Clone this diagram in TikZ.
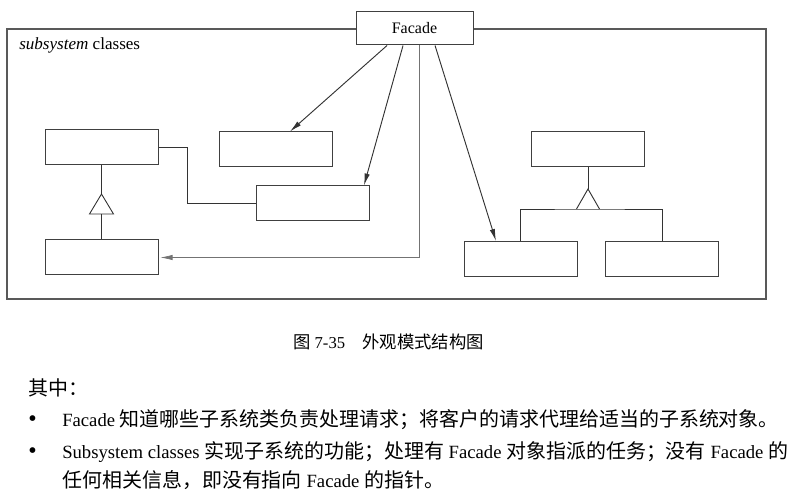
\documentclass[tikz,border=0pt]{standalone}
\usepackage{fontspec}
\setmainfont{Liberation Serif}
\newfontfamily\zhfont{Noto Sans CJK SC}[Scale = 1.04]
\newfontfamily\zhbody{Noto Sans CJK SC}[Scale = 1.07]
\usetikzlibrary{arrows.meta}

\begin{document}
\begin{tikzpicture}[x = 0.75pt, y = -0.75pt, > = {Latex[length = 9pt, width = 4pt]},
	every node/.style = {color = black, inner sep = 0pt},
	cls/.style = {draw = black!75, fill = white, line width = 0.75pt, minimum width = 84.75pt, minimum height = 26.25pt},
	link/.style = {draw = black!80, line width = 0.7pt}]

	% Definition

	\def\T{20}		% height of the generalization triangles (px)

	\useasboundingbox (0, 0) rectangle (801, 495);

	% Subsystem frame

	\draw [black!65, line width = 1pt] (7, 29) rectangle (766, 299);
	\node [anchor = base west, font = \fontsize{12.8}{14}\selectfont] (sublabel) at (19, 50) {\textit{subsystem} classes};

	% Facade and subsystem classes

	\node [cls, minimum width = 87.75pt, minimum height = 24.75pt, font = \fontsize{12}{14}\selectfont] (fac) at (414.5, 28.5) {Facade};

	\node [cls] (left1) at (101.5, 147.5) {};
	\node [cls] (left2) at (101.5, 257.5) {};
	\node [cls] (mid1) at (276, 149.5) {};
	\node [cls] (mid2) at (312.5, 203.5) {};
	\node [cls] (right1) at (588, 149) {};
	\node [cls] (right2) at (520.5, 259) {};
	\node [cls] (right3) at (662, 259) {};

	% Generalizations

	\coordinate (gen1) at (101.5, 214);
	\coordinate (gen2) at (588, 209);

	\begin{scope}[link]

		\draw (left1.south) -- ([yshift = \T*0.75pt] gen1);
		\draw (gen1) ++(-12, 0) -- ++(12, -\T) -- ++(12, \T) -- cycle;
		\draw (gen1) -- (left2.north);

		\draw (right1.south) -- ([yshift = \T*0.75pt] gen2);
		\draw (gen2) ++(-11.5, 0) -- ++(11.5, -\T) -- ++(11.5, \T);
		\draw (right2.north) |- (gen2) -| (right3.north);

		\draw (left1.east) -- ++(29, 0) |- (mid2.west);

	\end{scope}

	% Facade delegates to the subsystem

	\begin{scope}[->, link]

		\draw ([xshift = -20.6pt] fac.south) -- ([xshift = 10.5pt] mid1.north);
		\draw ([xshift = -8.6pt] fac.south) -- ([xshift = 38.6pt] mid2.north);
		\draw ([xshift = 15.4pt] fac.south) -- ([xshift = -18.4pt] right2.north);

	\end{scope}

	\draw [->, draw = black!55, line width = 0.45pt, shorten > = 1.5pt] ([xshift = 3.4pt] fac.south) |- (left2.east);

	% Caption and notes

	\node [font = \fontsize{12.5}{14}\selectfont] (caption) at (388.5, 342) {{\zhfont 图} 7-35{\zhfont 　外观模式结构图}};

	\begin{scope}[every node/.append style = {anchor = west, font = \fontsize{14}{16}\selectfont}]

		\node (where) at (28, 388) {\zhbody 其中：};
		\node [font = \fontsize{18}{18}\selectfont] (dot1) at (28, 421) {\textbullet};
		\node [font = \fontsize{18}{18}\selectfont] (dot2) at (28, 453) {\textbullet};
		\node (item1) at (62, 420) {Facade {\zhbody 知道哪些子系统类负责处理请求；将客户的请求代理给适当的子系统对象。}};
		\node (item2) at (62, 452) {Subsystem classes {\zhbody 实现子系统的功能；处理有} Facade {\zhbody 对象指派的任务；没有} Facade {\zhbody 的}};
		\node (item2b) at (62, 480) {{\zhbody 任何相关信息，即没有指向} Facade {\zhbody 的指针。}};

	\end{scope}

\end{tikzpicture}
\end{document}
